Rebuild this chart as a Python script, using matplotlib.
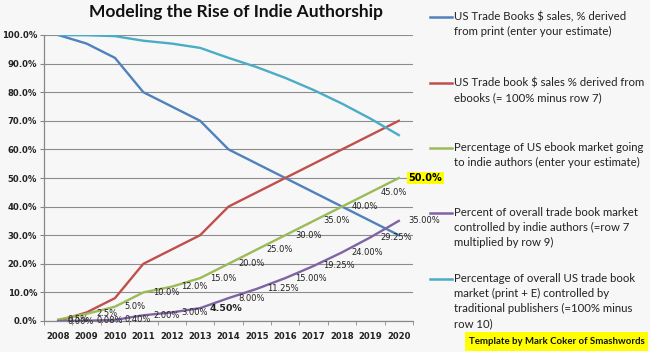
import matplotlib.pyplot as plt
from matplotlib.lines import Line2D
from matplotlib.patches import Rectangle

# data
years = ['2008', '2009', '2010', '2011', '2012', '2013', '2014',
         '2015', '2016', '2017', '2018', '2019', '2020']
print_share = [100, 97, 92, 80, 75, 70, 60, 55, 50, 45, 40, 35, 30]
ebook_share = [0, 3, 8, 20, 25, 30, 40, 45, 50, 55, 60, 65, 70]
indie_of_ebook = [0.5, 2.5, 5.0, 10.0, 12.0, 15.0, 20.0, 25.0, 30.0, 35.0, 40.0, 45.0, 50.0]
indie_overall = [0.00, 0.08, 0.40, 2.00, 3.00, 4.50, 8.00, 11.25, 15.00, 19.25, 24.00, 29.25, 35.00]
trad_overall = [100.0, 99.92, 99.6, 98.0, 97.0, 95.5, 92.0, 88.75, 85.0, 80.75, 76.0, 70.75, 65.0]

legend_labels = [
    'US Trade Books $ sales, % derived\nfrom print (enter your estimate)',
    'US Trade book $ sales % derived from\nebooks (= 100% minus row 7)',
    'Percentage of US ebook market going\nto indie authors (enter your estimate)',
    'Percent of overall trade book market\ncontrolled by indie authors (=row 7\nmultiplied by row 9)',
    'Percentage of overall US trade book\nmarket (print + E) controlled by\ntraditional publishers (=100% minus\nrow 10)',
]

colors = ['#4F81BD', '#C0504D', '#9BBB59', '#8064A2', '#4BACC6']
bg = '#f7f7f7'

fig = plt.figure(figsize=(6.5, 3.52), dpi=100, facecolor=bg)
ax = fig.add_axes([44 / 650, 1 - 321 / 352, 369 / 650, 286 / 352])
ax.set_facecolor(bg)

x = list(range(len(years)))
series = [print_share, ebook_share, indie_of_ebook, indie_overall, trad_overall]
for s, c in zip(series, colors):
    ax.plot(x, s, color=c, lw=1.7, solid_joinstyle='round', zorder=3)

ax.set_xlim(-0.5, len(years) - 0.5)
ax.set_ylim(0, 100)
ax.set_yticks(range(0, 101, 10))
ax.set_yticklabels([f'{v:.1f}%' for v in range(0, 101, 10)],
                   fontsize=6.1, fontweight='bold', color='#222222')
ax.set_xticks(x)
ax.set_xticklabels(years, fontsize=6.1, fontweight='bold', color='#222222')
ax.set_xticks([i - 0.5 for i in range(len(years) + 1)], minor=True)
ax.tick_params(axis='x', which='major', length=0, pad=8)
ax.tick_params(axis='x', which='minor', length=3, color='#888888', direction='out')
ax.tick_params(axis='y', length=3, color='#888888', direction='out', pad=2)
ax.grid(axis='y', color='#8c8c8c', lw=0.8, zorder=1)
for side in ['top', 'right']:
    ax.spines[side].set_visible(False)
for side in ['left', 'bottom']:
    ax.spines[side].set_color('#888888')
    ax.spines[side].set_linewidth(0.9)

# data labels
for i, v in enumerate(indie_of_ebook):
    if i == len(years) - 1:
        ax.annotate(f'{v:.1f}%', (i, v), xytext=(7, 0), textcoords='offset points',
                    ha='left', va='center', fontsize=7, fontweight='bold',
                    bbox=dict(boxstyle='square,pad=0.15', fc='#ffff00', ec='none'),
                    zorder=5, annotation_clip=False)
    else:
        ax.annotate(f'{v:.1f}%', (i, v), xytext=(7, 0), textcoords='offset points',
                    ha='left', va='center', fontsize=6, color='#222222', zorder=4)
for i, v in enumerate(indie_overall):
    bold = (i == 5)
    ax.annotate(f'{v:.2f}%', (i, v), xytext=(7, 0), textcoords='offset points',
                ha='left', va='center', fontsize=6.8 if bold else 6,
                fontweight='bold' if bold else 'normal', color='#222222',
                zorder=4, annotation_clip=False)

fig.text(236 / 650, 1 - 12 / 352, 'Modeling the Rise of Indie Authorship',
         ha='center', va='center', fontsize=12.5, fontweight='bold',
         family='Lato', color='#111111')

# legend on the right
legend_y = [17, 83, 148, 213, 279]
for lab, c, yp in zip(legend_labels, colors, legend_y):
    yf = 1 - yp / 352
    fig.add_artist(Line2D([430 / 650, 452 / 650], [yf, yf], color=c, lw=1.8,
                          transform=fig.transFigure))
    fig.text(454 / 650, 1 - (yp - 6) / 352, lab, ha='left', va='top',
             fontsize=8.2, family='Lato', color='#222222', linespacing=1.45)

fig.add_artist(Rectangle((465 / 650, 1 - 351 / 352), 183 / 650, 19 / 352,
                         transform=fig.transFigure, fc='#ffff00', ec='none'))
fig.text(557 / 650, 1 - 341.5 / 352, 'Template by Mark Coker of Smashwords',
         ha='center', va='center', fontsize=6.9, fontweight='bold',
         family='Lato', color='#111111')

fig.savefig('out.png', dpi=100, facecolor=bg)
